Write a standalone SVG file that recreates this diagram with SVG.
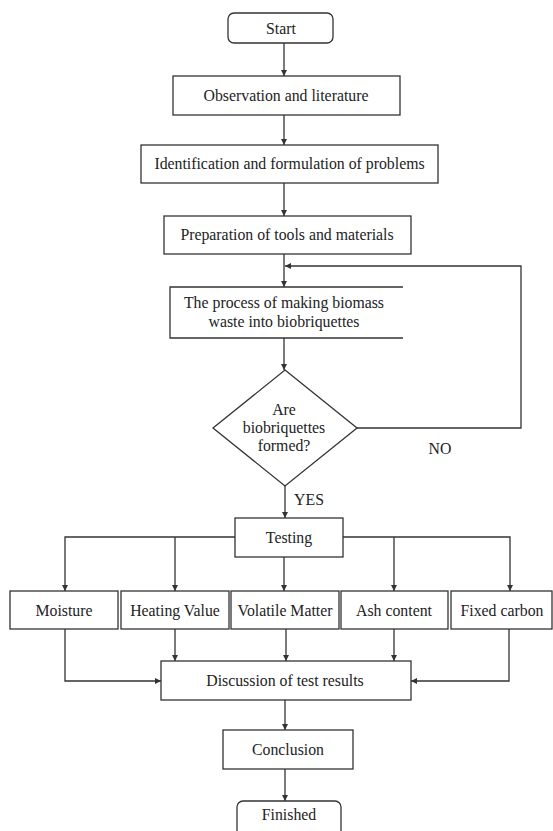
<svg xmlns="http://www.w3.org/2000/svg" width="553" height="831" viewBox="0 0 553 831">
<style>
.box{fill:#fff;stroke:#333;stroke-width:1.3}
.ln{fill:none;stroke:#333;stroke-width:1.3}
text{font-family:"Liberation Serif","Times New Roman","DejaVu Serif",serif;font-size:15.8px;fill:#222;text-anchor:middle}
</style>
<defs>
<marker id="ah" viewBox="0 0 10 10" refX="10" refY="5" markerWidth="6" markerHeight="6" markerUnits="userSpaceOnUse" orient="auto">
<path d="M0,0 L10,5 L0,10 z" fill="#333"/>
</marker>
</defs>
<rect width="553" height="831" fill="#fff"/>
<g id="connectors">
<path class="ln" d="M284,43 V76" marker-end="url(#ah)"/>
<path class="ln" d="M284,115 V145" marker-end="url(#ah)"/>
<path class="ln" d="M284,183 V216" marker-end="url(#ah)"/>
<path class="ln" d="M284,254 V287" marker-end="url(#ah)"/>
<path class="ln" d="M357,428 H521 V266 H285" marker-end="url(#ah)"/>
<path class="ln" d="M284,338 V370" marker-end="url(#ah)"/>
<path class="ln" d="M285,486 V518" marker-end="url(#ah)"/>
<path class="ln" d="M235,537 H65 V591" marker-end="url(#ah)"/>
<path class="ln" d="M175,537 V591" marker-end="url(#ah)"/>
<path class="ln" d="M284,557 V591" marker-end="url(#ah)"/>
<path class="ln" d="M343,537 H510 V591" marker-end="url(#ah)"/>
<path class="ln" d="M394,537 V591" marker-end="url(#ah)"/>
<path class="ln" d="M65,629 V681 H161" marker-end="url(#ah)"/>
<path class="ln" d="M175,629 V661" marker-end="url(#ah)"/>
<path class="ln" d="M286,629 V661" marker-end="url(#ah)"/>
<path class="ln" d="M394,629 V661" marker-end="url(#ah)"/>
<path class="ln" d="M509,629 V681 H411" marker-end="url(#ah)"/>
<path class="ln" d="M285,700 V730" marker-end="url(#ah)"/>
<path class="ln" d="M285,769 V801" marker-end="url(#ah)"/>
</g>
<g id="start"><rect class="box" x="228" y="13" width="105" height="30" rx="6"/><text x="281" y="34">Start</text></g>
<g id="observation"><rect class="box" x="173" y="76" width="227" height="39"/><text x="286" y="101">Observation and literature</text></g>
<g id="identification"><rect class="box" x="141" y="145" width="297" height="38"/><text x="289.5" y="169">Identification and formulation of problems</text></g>
<g id="preparation"><rect class="box" x="164" y="216" width="247" height="38"/><text x="287" y="240">Preparation of tools and materials</text></g>
<g id="process"><path class="ln" d="M403,287 H170 V338 H403"/><text x="284" y="308">The process of making biomass</text><text x="284" y="327">waste into biobriquettes</text></g>
<g id="decision"><path class="box" d="M285,370 L357,428 L285,486 L213,428 Z"/><text x="284" y="415">Are</text><text x="284" y="433">biobriquettes</text><text x="284" y="451">formed?</text></g>
<g id="labels"><text x="440" y="454">NO</text><text x="309" y="505">YES</text></g>
<g id="testing"><rect class="box" x="235" y="518" width="108" height="39"/><text x="289" y="543">Testing</text></g>
<g id="moisture"><rect class="box" x="10" y="591" width="108" height="38"/><text x="64" y="616">Moisture</text></g>
<g id="heating"><rect class="box" x="121" y="591" width="108" height="38"/><text x="175" y="616">Heating Value</text></g>
<g id="volatile"><rect class="box" x="231" y="591" width="108" height="38"/><text x="285" y="616">Volatile Matter</text></g>
<g id="ash"><rect class="box" x="341" y="591" width="107" height="38"/><text x="394" y="616">Ash content</text></g>
<g id="fixed"><rect class="box" x="451" y="591" width="101" height="38"/><text x="502" y="616">Fixed carbon</text></g>
<g id="discussion"><rect class="box" x="161" y="661" width="250" height="39"/><text x="285" y="686">Discussion of test results</text></g>
<g id="conclusion"><rect class="box" x="223" y="730" width="130" height="39"/><text x="288" y="755">Conclusion</text></g>
<g id="finished"><rect class="box" x="237" y="801" width="104" height="40" rx="6"/><text x="289" y="820">Finished</text></g>
</svg>
